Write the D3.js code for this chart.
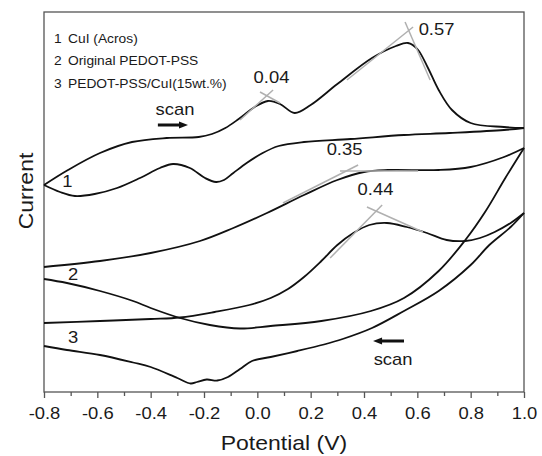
<!DOCTYPE html>
<html><head><meta charset="utf-8">
<script src="https://cdn.jsdelivr.net/npm/d3@7"></script>
<style>body{margin:0;background:#fff}svg{display:block}</style>
</head><body><svg id="c" width="542" height="456"></svg>
<script>
// ---------- data (Potential V, Current a.u.) ----------
const potentialTicks = [-0.8,-0.6,-0.4,-0.2,0.0,0.2,0.4,0.6,0.8,1.0];
const minorTicks = [-0.7,-0.5,-0.3,-0.1,0.1,0.3,0.5,0.7,0.9];
const legendLabels = ["CuI (Acros)", "Original PEDOT-PSS", "PEDOT-PSS/CuI(15wt.%)"];
const curveNumbers = ["1","2","3"];

const cuiForward = [[-0.80,20.7],[-0.71,22.2],[-0.59,23.9],[-0.47,25.0],[-0.34,25.4],[-0.22,25.5],[-0.17,25.8],[-0.12,26.4],[-0.07,27.3],[-0.01,28.5],[0.04,29.1],[0.085,28.8],[0.14,27.9],[0.20,28.7],[0.30,30.8],[0.43,33.4],[0.52,34.6],[0.565,34.9],[0.60,34.3],[0.64,32.4],[0.68,30.2],[0.73,28.2],[0.80,26.9],[0.925,26.5],[1.00,26.4]];
const cuiReverse = [[1.00,26.4],[0.925,26.2],[0.72,25.9],[0.55,25.7],[0.35,25.3],[0.175,25.0],[0.08,24.6],[0.02,23.9],[-0.04,22.9],[-0.09,21.9],[-0.125,21.2],[-0.155,21.0],[-0.196,21.4],[-0.253,22.4],[-0.316,22.8],[-0.365,22.4],[-0.44,21.4],[-0.526,20.4],[-0.61,19.8],[-0.684,19.6],[-0.74,20.0],[-0.80,20.7]];
const pedotForward = [[-0.80,12.5],[-0.59,13.1],[-0.40,13.9],[-0.215,15.1],[-0.09,16.4],[0.036,17.9],[0.175,19.7],[0.30,21.2],[0.40,22.0],[0.49,22.2],[0.68,22.2],[0.80,22.5],[0.925,23.5],[1.00,24.4]];
const pedotReverse = [[1.00,24.4],[0.93,21.4],[0.854,18.0],[0.78,15.2],[0.68,12.1],[0.55,9.4],[0.426,8.1],[0.24,7.1],[0.05,6.6],[-0.065,6.35],[-0.178,6.7],[-0.29,7.4],[-0.40,8.4],[-0.466,9.1],[-0.59,10.1],[-0.714,10.9],[-0.80,11.3]];
const compForward = [[-0.80,6.9],[-0.59,7.1],[-0.40,7.3],[-0.29,7.45],[-0.16,8.0],[-0.03,8.7],[0.05,9.4],[0.115,10.3],[0.175,11.5],[0.24,13.1],[0.30,14.7],[0.36,15.9],[0.42,16.7],[0.486,16.9],[0.56,16.5],[0.636,15.9],[0.71,15.2],[0.78,15.1],[0.835,15.4],[0.89,16.0],[0.95,16.9],[1.00,17.9]];
const compReverse = [[1.00,17.9],[0.95,16.5],[0.87,14.7],[0.80,12.7],[0.68,10.1],[0.55,8.1],[0.43,6.4],[0.32,5.3],[0.25,4.75],[0.15,4.1],[0.05,3.5],[-0.02,3.1],[-0.065,2.3],[-0.11,1.5],[-0.15,1.15],[-0.19,1.25],[-0.226,1.0],[-0.25,0.85],[-0.30,1.4],[-0.40,2.5],[-0.466,2.95],[-0.59,3.7],[-0.714,4.2],[-0.80,4.6]];

// peak tangent construction lines
const tangentLines = [
  [[-0.065,27.2],[0.059,30.2]], [[0.01,30.0],[0.085,28.9]],
  [[0.336,31.2],[0.584,36.5]], [[0.554,37.0],[0.648,31.2]],
  [[0.096,18.9],[0.378,22.7]], [[0.31,22.1],[0.603,22.1]],
  [[0.273,13.4],[0.468,18.7]], [[0.411,18.5],[0.621,16.0]]
];
const peakLabels = ["0.04","0.57","0.35","0.44"];
const peakLabelAt = [[0.053,30.9],[0.672,35.7],[0.327,23.7],[0.443,19.7]];
const curveLabelAt = [[-0.712,20.5],[-0.691,11.2],[-0.691,4.9]];
const scanAnn = [
  {text:"scan", at:[-0.309,27.7], arrow:[[-0.373,26.7],[-0.26,26.7]]},
  {text:"scan", at:[0.509,2.7], arrow:[[0.55,5.1],[0.434,5.1]]}
];

// ---------- layout ----------
const W=542,H=456, L=44, R=524, T=12, B=392;
const SX = 1.15; // horizontal glyph stretch
const FONT = "'Liberation Sans', Arial, sans-serif";
const svg = d3.select("#c");
const x = d3.scaleLinear().domain([-0.8,1.0]).range([L,R]);
const y = d3.scaleLinear().domain([0,38]).range([B,T]);

function stext(g, str, px, py, size, anchor){
  return g.append("text").attr("transform",`translate(${px},${py}) scale(${SX},1)`)
    .attr("text-anchor",anchor||"middle").attr("font-family",FONT)
    .attr("font-size",size).attr("fill","#1a1a1a").text(str);
}

// axis
const axisColor="#555";
const ax = svg.append("g").attr("transform",`translate(0,${B})`)
  .call(d3.axisBottom(x).tickValues(potentialTicks).tickFormat(d=>d.toFixed(1)).tickSize(6).tickSizeOuter(0));
ax.select(".domain").remove();
ax.selectAll(".tick line").attr("stroke",axisColor).attr("stroke-width",1.3);
ax.selectAll(".tick text").attr("y",27).attr("dy",0).attr("font-family",FONT).attr("font-size",16)
  .attr("fill","#1a1a1a").attr("transform",`scale(${SX},1)`);
const axm = svg.append("g").attr("transform",`translate(0,${B})`)
  .call(d3.axisBottom(x).tickValues(minorTicks).tickFormat("").tickSize(4).tickSizeOuter(0));
axm.select(".domain").remove();
axm.selectAll(".tick line").attr("stroke",axisColor).attr("stroke-width",1.3);

svg.append("rect").attr("x",L).attr("y",T).attr("width",R-L).attr("height",B-T)
  .attr("fill","none").attr("stroke",axisColor).attr("stroke-width",1.3);

// curves
const line = d3.line().x(d=>x(d[0])).y(d=>y(d[1])).curve(d3.curveCatmullRom.alpha(0.5));
[cuiForward,cuiReverse,pedotForward,pedotReverse,compForward,compReverse].forEach(c=>{
  svg.append("path").attr("d",line(c)).attr("fill","none").attr("stroke","#111").attr("stroke-width",1.8);
});
// tangents
const sline = d3.line().x(d=>x(d[0])).y(d=>y(d[1]));
tangentLines.forEach(t=>{
  svg.append("path").attr("d",sline(t)).attr("fill","none").attr("stroke","#b0b0b0").attr("stroke-width",1.5);
});

// labels
const lab = svg.append("g");
peakLabels.forEach((s,i)=>stext(lab,s,x(peakLabelAt[i][0]),y(peakLabelAt[i][1]),16));
curveNumbers.forEach((s,i)=>stext(lab,s,x(curveLabelAt[i][0]),y(curveLabelAt[i][1]),16));
scanAnn.forEach(a=>{
  stext(lab,a.text,x(a.at[0]),y(a.at[1]),16);
  const [p0,p1]=a.arrow; const x0=x(p0[0]),x1=x(p1[0]),yy=y(p0[1]);
  const dir = Math.sign(x1-x0);
  lab.append("line").attr("x1",x0).attr("x2",x1-dir*6).attr("y1",yy).attr("y2",yy).attr("stroke","#111").attr("stroke-width",3);
  lab.append("path").attr("d",`M${x1},${yy} L${x1-dir*9},${yy-3.5} L${x1-dir*9},${yy+3.5} Z`).attr("fill","#111");
});

// legend
legendLabels.forEach((s,i)=>{
  const by = T + 31 + i*22.3;
  stext(lab,curveNumbers[i],L+10,by,12,"start");
  stext(lab,s,L+24,by,12,"start");
});

// axis titles
stext(svg,"Potential (V)",(L+R)/2,450,20);
svg.append("text").attr("transform",`translate(33,191) rotate(-90) scale(${SX},1)`)
  .attr("text-anchor","middle").attr("font-family",FONT).attr("font-size",20).attr("fill","#1a1a1a").text("Current");
</script></body></html>
